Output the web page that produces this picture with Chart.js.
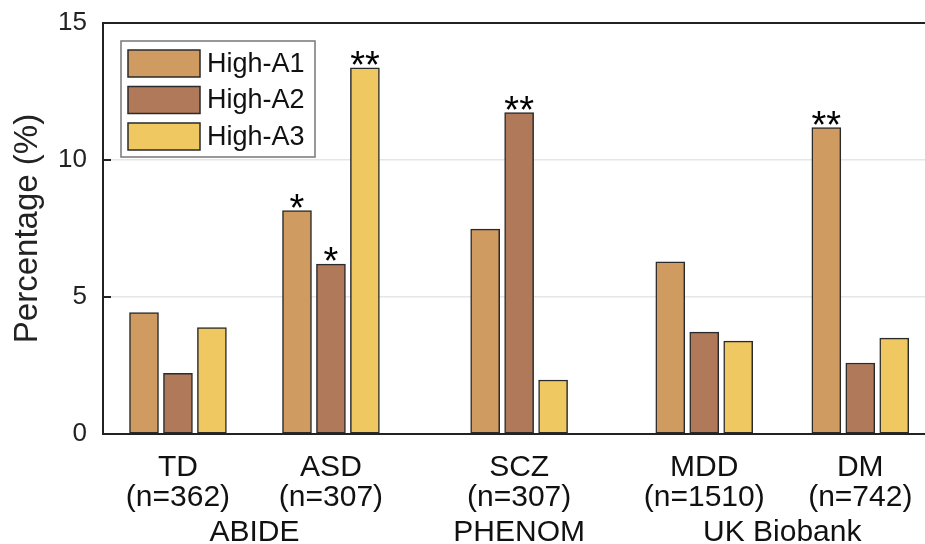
<!DOCTYPE html>
<html>
<head>
<meta charset="utf-8">
<script src="https://cdn.jsdelivr.net/npm/chart.js@4"></script>
<style>
  html, body { margin: 0; padding: 0; background: #fff; }
  #wrap { width: 925px; height: 544px; }
</style>
</head>
<body>
<div id="wrap"><canvas id="barChart" width="925" height="544"></canvas></div>
<script>
// data
const categories = ['TD', 'ASD', 'SCZ', 'MDD', 'DM'];
const sampleSizes = ['(n=362)', '(n=307)', '(n=307)', '(n=1510)', '(n=742)'];
const categoryX = [1, 2, 3.23, 4.44, 5.46];
const cohortNames = ['ABIDE', 'PHENOM', 'UK Biobank'];
const cohortMembers = [[0, 1], [2], [3, 4]];

const seriesNames = ['High-A1', 'High-A2', 'High-A3'];
const highA1 = [4.43, 8.15, 7.48, 6.28, 11.18];
const highA2 = [2.21, 6.20, 11.73, 3.72, 2.59];
const highA3 = [3.88, 13.36, 1.97, 3.39, 3.50];
const starsA1 = ['', '*', '', '', '**'];
const starsA2 = ['', '*', '**', '', ''];
const starsA3 = ['', '**', '', '', ''];
const yTicks = [0, 5, 10, 15];

const colors = ['#D09B60', '#B07A5A', '#F0C862'];
const barOffset = 0.222; // spacing of bars inside a group, in x units
const FONT = '"Liberation Sans", Arial, Helvetica, sans-serif';

const series = [highA1, highA2, highA3];
const stars = [starsA1, starsA2, starsA3];

const datasets = series.map((vals, s) => ({
    label: seriesNames[s],
    data: vals.map((v, i) => ({ x: categoryX[i] + (s - 1) * barOffset, y: v })),
    backgroundColor: colors[s],
    borderColor: '#2a2a2a',
    borderWidth: 1.5,
    borderSkipped: false,
    barThickness: 29,
    grouped: false,
    stars: stars[s],
}));

// frame, inward ticks, stars, x labels and legend
const decor = {
    id: 'decor',
    afterDatasetsDraw(chart) {
        const ctx = chart.ctx;
        const area = chart.chartArea;
        const x = chart.scales.x, y = chart.scales.y;
        ctx.save();

        // top frame line
        ctx.strokeStyle = '#222';
        ctx.lineWidth = 2;
        ctx.beginPath();
        ctx.moveTo(area.left, area.top);
        ctx.lineTo(area.right, area.top);
        ctx.stroke();

        // inward tick marks on y axis
        yTicks.forEach(t => {
            const py = y.getPixelForValue(t);
            ctx.beginPath();
            ctx.moveTo(area.left, py);
            ctx.lineTo(area.left + 8, py);
            ctx.stroke();
        });

        // significance stars
        ctx.fillStyle = '#000';
        ctx.font = '38px ' + FONT;
        ctx.textAlign = 'center';
        ctx.textBaseline = 'alphabetic';
        chart.data.datasets.forEach((ds, di) => {
            const meta = chart.getDatasetMeta(di);
            meta.data.forEach((bar, i) => {
                const s = ds.stars[i];
                if (!s) return;
                const m = ctx.measureText(s);
                ctx.fillText(s, bar.x, bar.y - 3 - m.actualBoundingBoxDescent);
            });
        });

        // x labels
        ctx.fillStyle = '#111';
        ctx.font = '30px ' + FONT;
        categories.forEach((c, i) => {
            const px = x.getPixelForValue(categoryX[i]);
            ctx.fillText(c, px, 476);
            ctx.fillText(sampleSizes[i], px, 506);
        });
        cohortNames.forEach((n, k) => {
            const idx = cohortMembers[k];
            const mid = (categoryX[idx[0]] + categoryX[idx[idx.length - 1]]) / 2;
            ctx.fillText(n, x.getPixelForValue(mid), 541);
        });

        // legend box
        const bx = area.left + 18, by = area.top + 18, bw = 194, bh = 116;
        ctx.fillStyle = '#fff';
        ctx.fillRect(bx, by, bw, bh);
        ctx.strokeStyle = '#777';
        ctx.lineWidth = 1.5;
        ctx.strokeRect(bx, by, bw, bh);
        ctx.font = '27px ' + FONT;
        ctx.textAlign = 'left';
        ctx.textBaseline = 'middle';
        seriesNames.forEach((name, s) => {
            const sy = by + 9 + s * 36.5;
            ctx.fillStyle = colors[s];
            ctx.fillRect(bx + 7, sy, 72, 27);
            ctx.strokeStyle = '#2a2a2a';
            ctx.strokeRect(bx + 7, sy, 72, 27);
            ctx.fillStyle = '#111';
            ctx.fillText(name, bx + 86, sy + 14.5);
        });

        ctx.restore();
    }
};

new Chart(document.getElementById('barChart').getContext('2d'), {
    type: 'bar',
    data: { datasets: datasets },
    options: {
        responsive: false,
        animation: false,
        layout: { padding: { top: 23, right: 0, left: 0, bottom: 0 } },
        plugins: { legend: { display: false }, tooltip: { enabled: false } },
        scales: {
            x: {
                type: 'linear',
                min: 0.51,
                max: 5.883,
                offset: false,
                ticks: { display: false },
                grid: { display: false, drawTicks: false },
                border: { display: true, color: '#222', width: 2 },
                afterFit: s => { s.height = 110; s.paddingLeft = 0; s.paddingRight = 0; },
            },
            y: {
                min: 0,
                max: 15,
                afterBuildTicks: s => { s.ticks = yTicks.map(v => ({ value: v })); },
                ticks: { color: '#222', font: { family: FONT, size: 26 }, padding: 16 },
                grid: {
                    drawTicks: false,
                    color: c => (c.tick && (c.tick.value === 5 || c.tick.value === 10)) ? '#e6e6e6' : 'rgba(0,0,0,0)',
                    lineWidth: 1.5,
                },
                border: { display: true, color: '#222', width: 2 },
                title: {
                    display: true,
                    text: 'Percentage (%)',
                    color: '#222',
                    font: { family: FONT, size: 33 },
                    padding: { top: 8, bottom: 0 },
                },
                afterFit: s => { s.width = 103; s.paddingTop = 0; s.paddingBottom = 0; },
            }
        }
    },
    plugins: [decor]
});
</script>
</body>
</html>
